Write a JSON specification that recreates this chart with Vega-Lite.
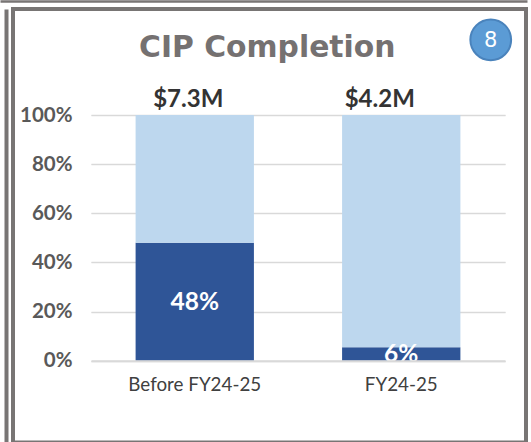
{
"$schema":"https://vega.github.io/schema/vega-lite/v6.json",
"autosize":"none",
"width":513,"height":433.5,
"padding":{"left":13,"top":9,"right":5,"bottom":0},
"background":"white",
"config":{"view":{"stroke":"#787574","strokeWidth":4}},
"datasets":{
"bars":[
{"period":"Before FY24-25","status":"Completed","rank":1,"share":0.48,"label":"48%"},
{"period":"Before FY24-25","status":"Remaining","rank":2,"share":0.52},
{"period":"FY24-25","status":"Completed","rank":1,"share":0.055,"label":"6%"},
{"period":"FY24-25","status":"Remaining","rank":2,"share":0.945}],
"totals":[{"period":"Before FY24-25","top":1,"total":"$7.3M"},{"period":"FY24-25","top":1,"total":"$4.2M"}],
"heading":[{"period":"Before FY24-25","level":1.281,"title":"CIP Completion"}],
"badge":[{"period":"FY24-25","level":1.306,"n":"8"}]
},
"resolve":{"scale":{"x":"independent","y":"independent"},"axis":{"x":"independent","y":"independent"}},
"layer":[
{"layer":[
{"data":{"name":"bars"},
 "mark":{"type":"bar"},
 "encoding":{
  "x":{"field":"period","type":"nominal","sort":null,"title":null,
   "scale":{"range":[78,492],"paddingInner":0.427,"paddingOuter":0.216},
   "axis":{"orient":"bottom","offset":-81.8,"labelAngle":0,"ticks":false,"domainColor":"#D9D9D9","domainWidth":2,"zindex":1,"labelFont":"Lato","labelFontSize":18.8,"labelColor":"#404040","labelPadding":15}},
  "y":{"field":"share","type":"quantitative","stack":"zero","title":null,
   "scale":{"domain":[0,1],"range":[351.7,106]},
   "axis":{"orient":"left","offset":-78,"values":[0,0.2,0.4,0.6,0.8,1],"format":".0%","domain":false,"tickSize":-414,"tickColor":"#D9D9D9","tickWidth":1.5,"labelFont":"Lato","labelFontWeight":"bold","labelFontSize":20.5,"labelColor":"#595959","labelPadding":433}},
  "color":{"field":"status","type":"nominal","legend":null,"scale":{"domain":["Completed","Remaining"],"range":["#2F5597","#BDD7EE"]}},
  "order":{"field":"rank","type":"quantitative"}
 }},
{"data":{"name":"bars"},
 "transform":[{"filter":"datum.label"},{"calculate":"datum.share/2","as":"mid"}],
 "mark":{"type":"text","color":"white","font":"Lato","fontWeight":"bold","fontSize":24.5,"dy":1.5},
 "encoding":{
  "x":{"field":"period","type":"nominal","sort":null},
  "y":{"field":"mid","type":"quantitative"},
  "text":{"field":"label"}
 }},
{"data":{"name":"totals"},
 "transform":[{"filter":"datum.total=='$7.3M'"}],
 "mark":{"type":"text","color":"#333333","font":"Lato","fontWeight":"bold","fontSize":24,"baseline":"alphabetic","dy":-8,"dx":-6.5},
 "encoding":{
  "x":{"field":"period","type":"nominal","sort":null},
  "y":{"field":"top","type":"quantitative"},
  "text":{"field":"total"}
 }},
{"data":{"name":"totals"},
 "transform":[{"filter":"datum.total=='$4.2M'"}],
 "mark":{"type":"text","color":"#333333","font":"Lato","fontWeight":"bold","fontSize":24,"baseline":"alphabetic","dy":-8,"dx":-21.5},
 "encoding":{
  "x":{"field":"period","type":"nominal","sort":null},
  "y":{"field":"top","type":"quantitative"},
  "text":{"field":"total"}
 }},
{"data":{"name":"heading"},
 "mark":{"type":"text","color":"#757171","font":"DejaVu Sans","fontWeight":"bold","fontSize":29.8,"dx":72.5,"dy":2},
 "encoding":{
  "x":{"field":"period","type":"nominal","sort":null},
  "y":{"field":"level","type":"quantitative"},
  "text":{"field":"title"}
 }},
{"data":{"name":"badge"},
 "mark":{"type":"point","filled":true,"size":1660,"shape":"circle","fill":"#5B9BD5","stroke":"#4A83BC","strokeWidth":2,"opacity":1,"xOffset":89.5},
 "encoding":{
  "x":{"field":"period","type":"nominal","sort":null},
  "y":{"field":"level","type":"quantitative"}
 }},
{"data":{"name":"badge"},
 "mark":{"type":"text","color":"white","font":"DejaVu Sans","fontSize":21,"dx":89.5,"dy":1},
 "encoding":{
  "x":{"field":"period","type":"nominal","sort":null},
  "y":{"field":"level","type":"quantitative"},
  "text":{"field":"n"}
 }}
]},
{"data":{"values":[{"a":0}]},
 "mark":{"type":"point","opacity":0},
 "encoding":{
  "x":{"field":"a","type":"quantitative","title":null,"scale":{"domain":[0,1],"range":[-13,514]},
   "axis":{"orient":"top","offset":8,"ticks":false,"labels":false,"grid":false,"domainColor":"#787574","domainWidth":2.5}},
  "y":{"field":"a","type":"quantitative","title":null,"scale":{"domain":[0,1],"range":[433.5,0]},
   "axis":{"orient":"left","offset":7,"ticks":false,"labels":false,"grid":false,"domainColor":"#787574","domainWidth":4}}
 }}
]
}
